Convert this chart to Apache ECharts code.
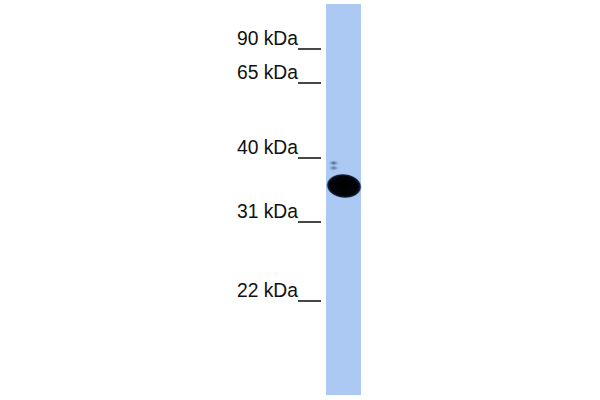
<!DOCTYPE html>
<html>
<head>
<meta charset="utf-8">
<script src="https://cdn.jsdelivr.net/npm/echarts@6/dist/echarts.min.js"></script>
<style>
html,body{margin:0;padding:0;background:#fff;}
#chart{width:600px;height:400px;}
</style>
</head>
<body>
<div id="chart"></div>
<script>
// Molecular-weight markers and their migration positions (distance from top, px-equivalent units)
const markerLabels = ['90 kDa', '65 kDa', '40 kDa', '31 kDa', '22 kDa'];
const markerPositions = [49, 83, 158, 222, 301];
// Lane extent (migration units)
const laneStart = [4];
const laneEnd = [395];
// Detected bands: position and relative intensity
const bandPositions = [186, 163, 168];
const bandIntensity = [1.0, 0.4, 0.35];

const LANE_COLOR = '#abc9f3';

const chart = echarts.init(document.getElementById('chart'), null, {renderer: 'svg'});

const markerData = markerLabels.map((l, i) => [0, markerPositions[i], l]);
const laneData = laneStart.map((s, i) => [s, laneEnd[i]]);
const bandData = bandPositions.map((p, i) => [0.5, p, bandIntensity[i]]);

chart.setOption({
  animation: false,
  backgroundColor: '#ffffff',
  grid: {left: 326, right: 239, top: 0, bottom: 0, containLabel: false},
  xAxis: {type: 'value', min: 0, max: 1, show: false},
  yAxis: {type: 'value', min: 0, max: 400, inverse: true, show: false},
  series: [
    {
      type: 'custom',
      name: 'lane',
      coordinateSystem: 'cartesian2d',
      data: laneData,
      renderItem: function (params, api) {
        const p0 = api.coord([0, api.value(0)]);
        const p1 = api.coord([1, api.value(1)]);
        return {
          type: 'rect',
          shape: {x: p0[0], y: p0[1], width: p1[0] - p0[0], height: p1[1] - p0[1]},
          style: {fill: LANE_COLOR}
        };
      }
    },
    {
      type: 'custom',
      name: 'bands',
      coordinateSystem: 'cartesian2d',
      data: bandData,
      z: 3,
      renderItem: function (params, api) {
        const c = api.coord([api.value(0), api.value(1)]);
        const inten = api.value(2);
        const left = api.coord([0, 0])[0];
        const right = api.coord([1, 0])[0];
        const w = right - left;
        if (inten > 0.9) {
          return {
            type: 'circle',
            x: c[0] + 0.5, y: c[1],
            scaleX: 1.45, scaleY: 1.0,
            rotation: -0.1,
            shape: {cx: 0, cy: 0, r: 12.5},
            style: {
              fill: {
                type: 'radial', x: 0.5, y: 0.5, r: 0.5,
                colorStops: [
                  {offset: 0, color: '#000000'},
                  {offset: 0.78, color: '#03050b'},
                  {offset: 0.9, color: '#1a2240'},
                  {offset: 1, color: 'rgba(171,201,243,0)'}
                ]
              }
            }
          };
        }
        return {
          type: 'circle',
          x: left + w * 0.22, y: c[1],
          scaleX: 1.7, scaleY: 0.9,
          shape: {cx: 0, cy: 0, r: 3.2},
          style: {
            fill: {
              type: 'radial', x: 0.5, y: 0.5, r: 0.5,
              colorStops: [
                {offset: 0, color: 'rgba(50,70,120,' + Math.min(1, inten * 2.2) + ')'},
                {offset: 1, color: 'rgba(120,150,210,0)'}
              ]
            }
          }
        };
      }
    },
    {
      type: 'custom',
      name: 'markers',
      coordinateSystem: 'cartesian2d',
      data: markerData,
      z: 4,
      renderItem: function (params, api) {
        const p = api.coord([0, api.value(1)]);
        const label = markerLabels[params.dataIndex];
        return {
          type: 'group',
          children: [
            {
              type: 'text',
              x: p[0] - 28, y: p[1] - 11,
              style: {
                text: label,
                align: 'right',
                verticalAlign: 'middle',
                fontFamily: '"Liberation Sans", Arial, sans-serif',
                fontSize: 19.3,
                fill: '#111111'
              }
            },
            {
              type: 'line',
              shape: {x1: p[0] - 28, y1: p[1], x2: p[0] - 5, y2: p[1]},
              style: {stroke: '#1a1a1a', lineWidth: 1.6}
            }
          ]
        };
      }
    }
  ]
});
</script>
</body>
</html>
